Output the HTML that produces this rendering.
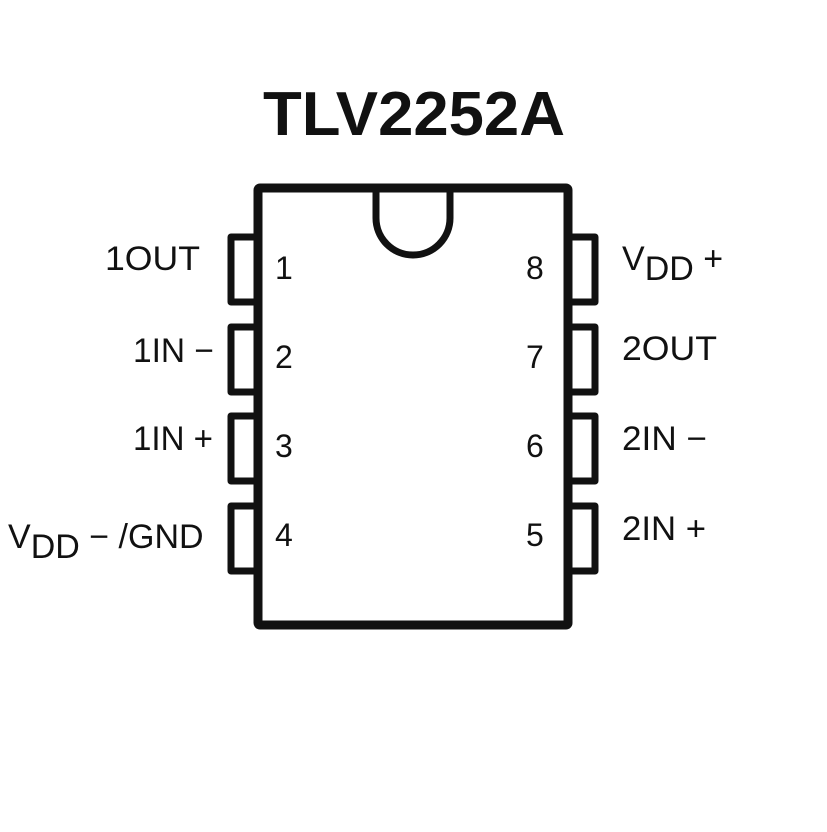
<!DOCTYPE html>
<html><head><style>body{margin:0;background:#fff}</style></head><body>
<svg width="827" height="827" xmlns="http://www.w3.org/2000/svg" font-family="Liberation Sans, Arial, sans-serif" fill="#111">
<rect width="827" height="827" fill="#fff"/>
<text x="263" y="135" font-size="62" font-weight="bold" textLength="302" lengthAdjust="spacingAndGlyphs">TLV2252A</text>
<g fill="none" stroke="#111" stroke-width="9" stroke-linejoin="round">
<rect x="258" y="188" width="310" height="437" rx="2"/>
<path d="M376 192 V218 A37 37 0 0 0 450 218 V192" stroke-width="7"/>
<g stroke-width="7">
<path d="M254 237 H231 V302 H254"/>
<path d="M254 327 H231 V392 H254"/>
<path d="M254 416 H231 V481 H254"/>
<path d="M254 506 H231 V571 H254"/>
<path d="M572 237 H595 V302 H572"/>
<path d="M572 327 H595 V392 H572"/>
<path d="M572 416 H595 V481 H572"/>
<path d="M572 506 H595 V571 H572"/>
</g>
</g>
<g font-size="32">
<text x="275" y="279">1</text><text x="275" y="368">2</text><text x="275" y="457">3</text><text x="275" y="546">4</text>
<text x="526" y="279">8</text><text x="526" y="368">7</text><text x="526" y="457">6</text><text x="526" y="546">5</text>
</g>
<g font-size="34">
<text x="105" y="270" textLength="95" lengthAdjust="spacingAndGlyphs">1OUT</text>
<text x="133" y="362" textLength="81" lengthAdjust="spacingAndGlyphs">1IN −</text>
<text x="133" y="450" textLength="80" lengthAdjust="spacingAndGlyphs">1IN +</text>
<text x="8" y="548">V<tspan dy="10">DD</tspan><tspan dy="-10"> − /GND</tspan></text>
<text x="622" y="270">V<tspan dy="10">DD</tspan><tspan dy="-10"> +</tspan></text>
<text x="622" y="360" textLength="95" lengthAdjust="spacingAndGlyphs">2OUT</text>
<text x="622" y="450" textLength="85" lengthAdjust="spacingAndGlyphs">2IN −</text>
<text x="622" y="540" textLength="84" lengthAdjust="spacingAndGlyphs">2IN +</text>
</g>
</svg>
</body></html>
